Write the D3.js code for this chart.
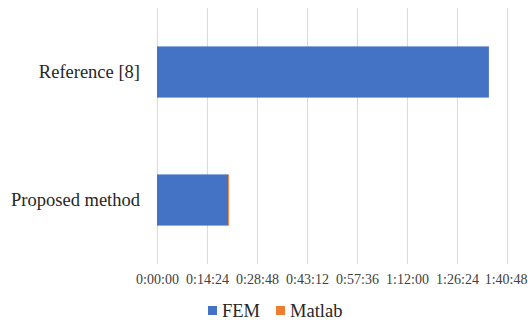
<!DOCTYPE html>
<html>
<head>
<meta charset="utf-8">
<script src="https://cdn.jsdelivr.net/npm/d3@7"></script>
<style>
  html, body { margin: 0; padding: 0; background: #fff; }
  svg { display: block; }
  svg text { font-family: "Liberation Serif", "Times New Roman", Times, serif; }
</style>
</head>
<body>
<svg id="chart" width="528" height="320"></svg>
<script>
// Computation time per method, in seconds
const categories = ["Reference [8]", "Proposed method"];
const seriesNames = ["FEM", "Matlab"];
const femSeconds = [5735, 1229];
const matlabSeconds = [0, 17];
const tickSeconds = [0, 864, 1728, 2592, 3456, 4320, 5184, 6048];
const colors = ["#4472C4", "#ED7D31"];

const svg = d3.select("#chart");
const fontFamily = "\"Liberation Serif\", \"Times New Roman\", Times, serif";
const width = 528;

const x = d3.scaleLinear().domain([0, 6048]).range([157, 507]);
const y = d3.scaleBand().domain(categories).range([8, 264])
  .paddingInner(0.6).paddingOuter(0.3);

const fmt = s => {
  const h = Math.floor(s / 3600), m = Math.floor((s % 3600) / 60), sec = s % 60;
  return `${h}:${String(m).padStart(2, "0")}:${String(sec).padStart(2, "0")}`;
};

// vertical gridlines
svg.append("g").selectAll("line").data(tickSeconds).join("line")
  .attr("x1", d => x(d) + 0.5).attr("x2", d => x(d) + 0.5)
  .attr("y1", 8).attr("y2", 264)
  .attr("stroke", "#D9D9D9").attr("stroke-width", 1);

// stacked bars
const rows = categories.map((c, i) => ({ cat: c, FEM: femSeconds[i], Matlab: matlabSeconds[i] }));
const stacked = d3.stack().keys(seriesNames)(rows);
svg.append("g").selectAll("g").data(stacked).join("g")
  .attr("fill", (d, i) => colors[i])
  .selectAll("rect").data(d => d).join("rect")
  .attr("x", d => x(d[0]))
  .attr("width", d => Math.max(0, x(d[1]) - x(d[0])))
  .attr("y", d => y(d.data.cat))
  .attr("height", y.bandwidth());

// x axis tick labels
const xAxis = d3.axisBottom(x).tickValues(tickSeconds).tickFormat(fmt).tickSize(0).tickPadding(0);
const gx = svg.append("g").attr("transform", "translate(0,274)").call(xAxis);
gx.attr("font-family", null);
gx.select(".domain").remove();
gx.selectAll("text").style("font-family", fontFamily).style("font-size", "14px")
  .attr("fill", "#404040").attr("dy", "0.71em");
// keep the last label inside the canvas
gx.selectAll(".tick").filter(d => d === tickSeconds[tickSeconds.length - 1])
  .select("text").attr("text-anchor", "end").attr("x", width - 1 - x(tickSeconds[tickSeconds.length - 1]));

// category labels
const yAxis = d3.axisLeft(y).tickSize(0).tickPadding(0);
const gy = svg.append("g").attr("transform", "translate(140,0)").call(yAxis);
gy.attr("font-family", null);
gy.select(".domain").remove();
gy.selectAll("text").style("font-family", fontFamily).style("font-size", "18.5px")
  .attr("fill", "#262626");

// legend
const legendItems = [{ name: "FEM", x: 208 }, { name: "Matlab", x: 276 }];
const lg = svg.append("g");
legendItems.forEach((it, i) => {
  lg.append("rect").attr("x", it.x).attr("y", 306).attr("width", 9).attr("height", 9)
    .attr("fill", colors[i]);
  lg.append("text").attr("x", it.x + 14).attr("y", 311).attr("dy", "0.35em")
    .style("font-family", fontFamily).style("font-size", "18.5px").attr("fill", "#262626")
    .text(seriesNames[i]);
});
</script>
</body>
</html>
